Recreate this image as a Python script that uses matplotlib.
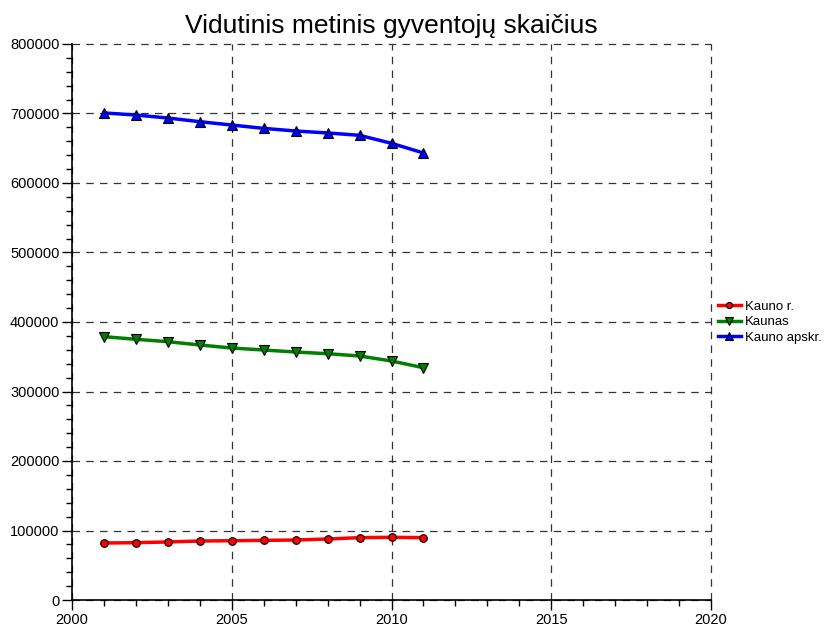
import matplotlib
matplotlib.use("Agg")
import matplotlib.pyplot as plt
from matplotlib.ticker import MultipleLocator

years = [2001, 2002, 2003, 2004, 2005, 2006, 2007, 2008, 2009, 2010, 2011]
kauno_r = [82000, 82500, 83500, 84900, 85300, 85800, 86300, 87800, 89700, 90200, 89700]
kaunas = [378900, 375100, 371700, 366900, 362600, 359700, 356800, 354400, 351100, 343900, 334200]
kauno_apskr = [700800, 697800, 693500, 688200, 683400, 678600, 674800, 672000, 668600, 657100, 643200]

plt.rcParams['font.family'] = ['Liberation Sans', 'DejaVu Sans']

fig = plt.figure(figsize=(8.28, 6.32), dpi=100)
ax = fig.add_axes([72/828, 1-600/632, (711-72)/828, (600-44)/632])

ax.plot(years, kauno_r, color='#ff0000', lw=2.5, marker='o', ms=5.5,
        markerfacecolor='#ff0000', markeredgecolor='black', markeredgewidth=0.8, label='Kauno r.', zorder=3)
ax.plot(years, kaunas, color='#008000', lw=2.5, marker='v', ms=6.5,
        markerfacecolor='#008000', markeredgecolor='black', markeredgewidth=0.8, label='Kaunas', zorder=3)
ax.plot(years, kauno_apskr, color='#0000ff', lw=2.5, marker='^', ms=6.5,
        markerfacecolor='#0000ff', markeredgecolor='black', markeredgewidth=0.8, label='Kauno apskr.', zorder=3)

ax.set_xlim(2000, 2020)
ax.set_ylim(0, 800000)
ax.xaxis.set_major_locator(MultipleLocator(5))
ax.xaxis.set_minor_locator(MultipleLocator(1))
ax.yaxis.set_major_locator(MultipleLocator(100000))
ax.yaxis.set_minor_locator(MultipleLocator(20000))
ax.tick_params(which='major', direction='out', length=7, width=1, labelsize=10.5, pad=2)
ax.tick_params(which='minor', direction='out', length=4, width=1)

ax.grid(True, which='major', color='#333333', linestyle=(0, (6, 5)), linewidth=0.9)
ax.set_axisbelow(True)
for gl in ax.get_xgridlines() + ax.get_ygridlines():
    gl.set_clip_on(False)
for s in ['top', 'right']:
    ax.spines[s].set_visible(False)
for s in ['left', 'bottom']:
    ax.spines[s].set_linewidth(1.2)

ax.set_title('Vidutinis metinis gyventojų skaičius', fontsize=19, pad=8)

leg = ax.legend(loc='center left', bbox_to_anchor=(1.0, 0.5), frameon=False,
                fontsize=9.5, handlelength=1.8, handletextpad=0.3, labelspacing=0.25,
                borderaxespad=0.5, borderpad=0.0, markerscale=0.8)

fig.savefig('out.png', dpi=100)
